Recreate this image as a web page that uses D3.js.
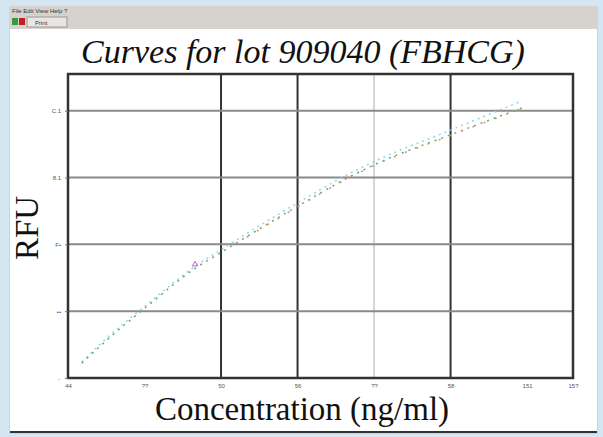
<!DOCTYPE html>
<html><head><meta charset="utf-8">
<script src="https://cdn.jsdelivr.net/npm/d3@7"></script>
<style>
html,body{margin:0;padding:0;background:#d6e8f2;}
svg{display:block;}
</style></head>
<body>
<svg id="c" width="603" height="437"></svg>
<script>
// ---- data ----
const xTicks = [0, 50, 100, 150, 200, 250, 300, 330];
const xTickLabels = ["44", "??", "50", "56", "??", "58", "151", "15?"];
const yTicks = [0, 20, 40, 60, 80];
const yTickLabels = ["..", "••", "F•", "8.1", "C.1"];
const curveX = [9, 25, 51, 83, 100, 150, 184, 201, 250, 297];
const cyanY = [4.8, 11.8, 21.8, 33.4, 38.4, 52.4, 61.2, 65.0, 74.2, 83.0];
const greenY = [4.4, 11.2, 21.2, 32.8, 37.6, 51.4, 60.2, 64.0, 72.8, 80.9];
const orangeX = [110, 150, 184, 201, 250, 297];
const orangeY = [40.2, 51.2, 60.0, 63.8, 72.6, 80.8];
const magentaX = [83];
const magentaY = [34.0];
const title = "Curves for lot 909040 (FBHCG)";
const xTitle = "Concentration (ng/ml)";
const yTitle = "RFU";

const svg = d3.select("#c");
// window chrome
svg.append("rect").attr("x",0).attr("y",0).attr("width",603).attr("height",437).attr("fill","#d4e6f1");
svg.append("rect").attr("x",9).attr("y",6).attr("width",589).attr("height",428).attr("fill","#d6d3ce");
svg.append("rect").attr("x",10).attr("y",29).attr("width",587).attr("height",402).attr("fill","#ffffff");
svg.append("line").attr("x1",10).attr("x2",597).attr("y1",432).attr("y2",432).attr("stroke","#333").attr("stroke-width",2);
svg.append("text").attr("x",12).attr("y",13).attr("font-size",6).attr("font-family","Arial").attr("fill","#333").text("File  Edit  View  Help  ?");
svg.append("rect").attr("x",12).attr("y",18).attr("width",6).attr("height",7).attr("fill","#3a9a3a");
svg.append("rect").attr("x",19).attr("y",18).attr("width",6).attr("height",7).attr("fill","#c02020");
svg.append("rect").attr("x",27).attr("y",17).attr("width",40).attr("height",10).attr("fill","#e8e6e2").attr("stroke","#999");
svg.append("text").attr("x",35).attr("y",25).attr("font-size",6).attr("font-family","Arial").attr("fill","#333").text("Print");

const L = 68, R = 573, T = 74, B = 378;
const x = d3.scaleLinear().domain([0, 330]).range([L, R]);
const y = d3.scaleLinear().domain([0, 91]).range([B, T]);

// grid
const g = svg.append("g");
const vStyle = {0:null,50:"none",100:"dark",150:"dark",200:"light",250:"dark",300:"none",330:null};
xTicks.forEach(t => {
  const s = vStyle[t];
  if (!s || s === "none") return;
  g.append("line").attr("x1",x(t)).attr("x2",x(t)).attr("y1",T).attr("y2",B)
    .attr("stroke", s==="dark" ? "#333" : "#c8c8c8").attr("stroke-width", s==="dark" ? 2 : 1.5);
});
yTicks.forEach(t => {
  if (t === 0) return;
  g.append("line").attr("x1",L).attr("x2",R).attr("y1",y(t)).attr("y2",y(t))
    .attr("stroke","#8a8a8a").attr("stroke-width",2);
});
svg.append("rect").attr("x",L).attr("y",T).attr("width",R-L).attr("height",B-T)
  .attr("fill","none").attr("stroke","#333").attr("stroke-width",2.5);

// axes
const xAxis = d3.axisBottom(x).tickValues(xTicks).tickSize(0).tickPadding(6)
  .tickFormat((d,i) => xTickLabels[i]);
const ax = svg.append("g").attr("transform",`translate(0,${B})`).call(xAxis);
ax.select(".domain").remove();
ax.selectAll("text").attr("font-size",6).attr("fill","#555").attr("font-family","Arial");
const yAxis = d3.axisLeft(y).tickValues(yTicks).tickSize(3).tickPadding(4)
  .tickFormat((d,i) => yTickLabels[i]);
const ay = svg.append("g").attr("transform",`translate(${L},0)`).call(yAxis);
ay.select(".domain").remove();
ay.selectAll("line").attr("stroke","#777");
ay.selectAll("text").attr("font-size",6).attr("fill","#555").attr("font-family","Arial");

// curves
const line = d3.line().x(d=>x(d[0])).y(d=>y(d[1])).curve(d3.curveMonotoneX);
const cyan = curveX.map((v,i)=>[v,cyanY[i]]);
const green = curveX.map((v,i)=>[v,greenY[i]]);
svg.append("path").attr("d",line(cyan)).attr("fill","none").attr("stroke","#8fd6ec").attr("stroke-width",1.5).attr("stroke-dasharray","2,4");
svg.append("path").attr("d",line(green)).attr("fill","none").attr("stroke","#6aa86e").attr("stroke-width",1.5).attr("stroke-dasharray","2,5");
const orange = orangeX.map((v,i)=>[v,orangeY[i]]);
svg.append("path").attr("d",line(orange)).attr("fill","none").attr("stroke","#e69060").attr("stroke-width",1.5).attr("stroke-dasharray","2,10");
svg.selectAll(".mg").data(magentaX).enter().append("path")
  .attr("d", d3.symbol().type(d3.symbolTriangle).size(12))
  .attr("transform",(d,i)=>`translate(${x(d)},${y(magentaY[i])})`)
  .attr("fill","none").attr("stroke","#c060d0").attr("stroke-width",1);

// titles
svg.append("text").attr("x",303).attr("y",63).attr("text-anchor","middle")
  .attr("font-family","'Liberation Serif','DejaVu Serif',serif").attr("font-style","italic")
  .attr("font-size",34).attr("fill","#111").text(title);
svg.append("text").attr("x",302).attr("y",420).attr("text-anchor","middle")
  .attr("font-family","'Liberation Serif','DejaVu Serif',serif")
  .attr("font-size",33).attr("fill","#111").text(xTitle);
svg.append("text").attr("transform","translate(38,228) rotate(-90)").attr("text-anchor","middle")
  .attr("font-family","'Liberation Serif','DejaVu Serif',serif")
  .attr("font-size",33).attr("fill","#111").text(yTitle);
</script>
</body></html>
